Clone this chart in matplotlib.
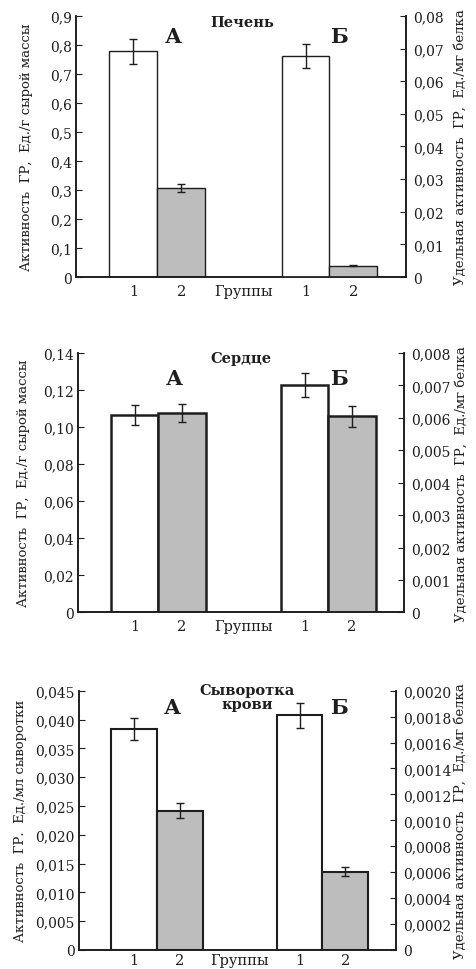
import matplotlib.pyplot as plt
from matplotlib.ticker import FuncFormatter

plt.rcParams['font.family'] = ['DejaVu Serif']

# данные: группы 1 и 2, А - на г сырой массы (левая ось), Б - на мг белка (правая ось)
groups = ['1', '2']
titles = ['Печень', 'Сердце', 'Сыворотка\nкрови']
left_labels = ['Активность  ГР,  Ед./г сырой массы',
               'Активность  ГР,  Ед./г сырой массы',
               'Активность  ГР.  Ед./мл сыворотки']
right_label = 'Удельная активность  ГР,  Ед./мг белка'

liver_a = [0.778, 0.308]
liver_a_err = [0.042, 0.014]
liver_b = [0.0677, 0.0035]
liver_b_err = [0.0037, 0.0002]

heart_a = [0.1063, 0.1077]
heart_a_err = [0.0054, 0.0050]
heart_b = [0.0070, 0.00605]
heart_b_err = [0.00037, 0.00032]

serum_a = [0.0383, 0.0242]
serum_a_err = [0.0019, 0.0013]
serum_b = [0.00181, 0.000604]
serum_b_err = [0.000095, 0.000035]

left_ticks = [[0, 0.1, 0.2, 0.3, 0.4, 0.5, 0.6, 0.7, 0.8, 0.9],
              [0, 0.02, 0.04, 0.06, 0.08, 0.10, 0.12, 0.14],
              [0, 0.005, 0.010, 0.015, 0.020, 0.025, 0.030, 0.035, 0.040, 0.045]]
right_ticks = [[0, 0.01, 0.02, 0.03, 0.04, 0.05, 0.06, 0.07, 0.08],
               [0, 0.001, 0.002, 0.003, 0.004, 0.005, 0.006, 0.007, 0.008],
               [0, 0.0002, 0.0004, 0.0006, 0.0008, 0.0010, 0.0012, 0.0014, 0.0016, 0.0018, 0.0020]]
left_dec = [1, 2, 3]
right_dec = [2, 3, 4]

panels = [(liver_a, liver_a_err, liver_b, liver_b_err),
          (heart_a, heart_a_err, heart_b, heart_b_err),
          (serum_a, serum_a_err, serum_b, serum_b_err)]

boxes = [[0.1593, 0.7134, 0.6918, 0.2691],
         [0.1635, 0.3677, 0.6834, 0.2673],
         [0.1656, 0.0196, 0.6646, 0.2673]]
edge_w = [1.0, 1.8, 1.5]
title_xy = [(0.503, 0.977), (0.50, 0.98), (0.53, 0.975)]
letter_y = [0.923, 0.905, 0.937]
b_x = [0.797, 0.80, 0.82]
xpad = [5, 5, 2]
left_pad = [12, 9, 6]
right_pad = [7, 3, 2]

txt = '#1e1e1e'
gray = '#bdbdbd'


def fmt(dec):
    def f(v, pos):
        if abs(v) < 1e-12:
            return '0'
        return (('%.' + str(dec) + 'f') % v).replace('.', ',')
    return FuncFormatter(f)


fig = plt.figure(figsize=(4.77, 9.70), dpi=100)

xa = [1.2, 2.2]
xb = [4.8, 5.8]
for i, (a, ae, b, be) in enumerate(panels):
    ax = fig.add_axes(boxes[i])
    ax2 = ax.twinx()
    ax.bar(xa, a, width=1.0, color=['white', gray], edgecolor=txt, linewidth=edge_w[i])
    ax.errorbar(xa, a, yerr=ae, fmt='none', ecolor=txt, elinewidth=1, capsize=3)
    ax2.bar(xb, b, width=1.0, color=['white', gray], edgecolor=txt, linewidth=edge_w[i])
    ax2.errorbar(xb, b, yerr=be, fmt='none', ecolor=txt, elinewidth=1, capsize=3)

    ax.set_xlim(0, 6.9)
    ax.set_ylim(0, left_ticks[i][-1])
    ax2.set_ylim(0, right_ticks[i][-1])
    ax.set_yticks(left_ticks[i])
    ax2.set_yticks(right_ticks[i])
    ax.yaxis.set_major_formatter(fmt(left_dec[i]))
    ax2.yaxis.set_major_formatter(fmt(right_dec[i]))

    ax.set_xticks([1.2, 2.2, 3.5, 4.8, 5.8])
    ax.set_xticklabels(groups + ['Группы'] + groups)
    ax.tick_params(axis='x', length=0, pad=xpad[i], labelsize=10.5, colors=txt)
    ax.set_xticks([3.5], minor=True)
    ax.tick_params(axis='x', which='minor', direction='in', length=4, color=txt)
    ax.tick_params(axis='y', direction='in', length=4, pad=3, labelsize=10, colors=txt)
    ax2.tick_params(axis='y', direction='in', length=4, pad=5, labelsize=10, colors=txt)

    for a_ in (ax, ax2):
        a_.spines['top'].set_visible(False)
        for s in ('left', 'right', 'bottom'):
            a_.spines[s].set_color(txt)
            a_.spines[s].set_linewidth(1.2)

    ax.set_ylabel(left_labels[i], fontsize=9.5, color=txt, labelpad=left_pad[i])
    ax2.set_ylabel(right_label, fontsize=9.5, color=txt, labelpad=right_pad[i])

    ax.text(title_xy[i][0], title_xy[i][1], titles[i], transform=ax.transAxes,
            ha='center', va='center', fontsize=10.5, fontweight='bold', color=txt,
            linespacing=1.0)
    ax.text(0.294, letter_y[i], 'А', transform=ax.transAxes, ha='center', va='center',
            fontsize=15, fontweight='bold', color=txt)
    ax.text(b_x[i], letter_y[i], 'Б', transform=ax.transAxes, ha='center', va='center',
            fontsize=15, fontweight='bold', color=txt)

fig.savefig('out.png', dpi=100)
